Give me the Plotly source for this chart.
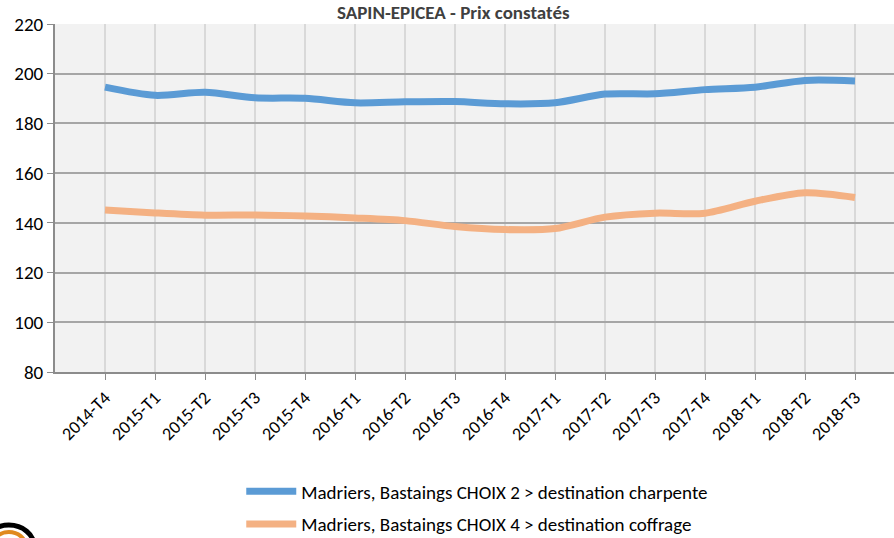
import plotly.graph_objects as go

categories = ["2014-T4", "2015-T1", "2015-T2", "2015-T3", "2015-T4", "2016-T1", "2016-T2", "2016-T3",
              "2016-T4", "2017-T1", "2017-T2", "2017-T3", "2017-T4", "2018-T1", "2018-T2", "2018-T3"]
charpente = [194.6, 191.3, 192.5, 190.3, 190.1, 188.3, 188.7, 188.8,
             187.9, 188.3, 191.8, 191.9, 193.6, 194.6, 197.3, 197.1]
coffrage = [145.2, 144.0, 143.1, 143.2, 142.8, 142.0, 140.9, 138.5,
            137.3, 137.7, 142.3, 143.9, 143.9, 148.7, 152.1, 150.2]
y_ticks = [80, 100, 120, 140, 160, 180, 200, 220]
title = "SAPIN-EPICEA - Prix constatés"
name1 = "Madriers, Bastaings CHOIX 2 > destination charpente"
name2 = "Madriers, Bastaings CHOIX 4 > destination coffrage"

FONT = "Carlito, Liberation Sans Narrow, Lato, sans-serif"
x_idx = list(range(len(categories)))

fig = go.Figure()
fig.add_trace(go.Scatter(x=x_idx, y=charpente, mode="lines", name=name1, legendgroup="a",
                         line=dict(color="#5B9BD5", width=7, shape="spline", smoothing=0.8)))
fig.add_trace(go.Scatter(x=x_idx, y=coffrage, mode="lines", name=name2, legendgroup="b",
                         line=dict(color="#F4B183", width=7, shape="spline", smoothing=0.8)))

fig.update_layout(
    width=894, height=538,
    margin=dict(l=55, r=0, t=24, b=166, autoexpand=False),
    paper_bgcolor="white", plot_bgcolor="#F2F2F2",
    font=dict(family=FONT, color="black", size=15),
    showlegend=True,
    legend=dict(x=0.222, xanchor="left", yref="container", y=0.122, yanchor="top",
                font=dict(family=FONT, size=19, color="black"),
                tracegroupgap=5, itemwidth=50, bgcolor="rgba(0,0,0,0)"),
    xaxis=dict(range=[-1, 15.78], tickmode="array", tickvals=x_idx, ticktext=categories,
               tickangle=-45, showgrid=True, gridcolor="#D9D9D9", gridwidth=1.5,
               showline=True, linecolor="#8C8C8C", linewidth=2,
               ticks="outside", ticklen=6, tickcolor="#8C8C8C", automargin=False,
               tickfont=dict(family=FONT, size=18), zeroline=False, fixedrange=True),
    yaxis=dict(range=[80, 220], tickmode="array", tickvals=y_ticks,
               showgrid=True, gridcolor="#A6A6A6", gridwidth=1.5,
               showline=True, linecolor="#8C8C8C", linewidth=2,
               ticks="outside", ticklen=6, tickcolor="#8C8C8C", automargin=False,
               tickfont=dict(family=FONT, size=19), zeroline=False, fixedrange=True),
    annotations=[dict(text="<b>" + title + "</b>", xref="paper", yref="paper",
                      x=0.475, y=1, xanchor="center", yanchor="middle", yshift=12,
                      showarrow=False, font=dict(family=FONT, size=19, color="#404040"))],
    shapes=[
        dict(type="circle", xref="paper", yref="paper", x0=-0.085, x1=-0.025, y0=-0.56, y1=-0.44,
             line=dict(color="black", width=5), fillcolor="rgba(0,0,0,0)", layer="above"),
        dict(type="circle", xref="paper", yref="paper", x0=-0.075, x1=-0.035, y0=-0.54, y1=-0.46,
             line=dict(color="#E08A1E", width=4), fillcolor="rgba(0,0,0,0)", layer="above"),
    ],
)

fig.write_html("out.html", config={"displayModeBar": False},
               post_script="document.body.style.margin='0';document.body.style.overflow='hidden';")
